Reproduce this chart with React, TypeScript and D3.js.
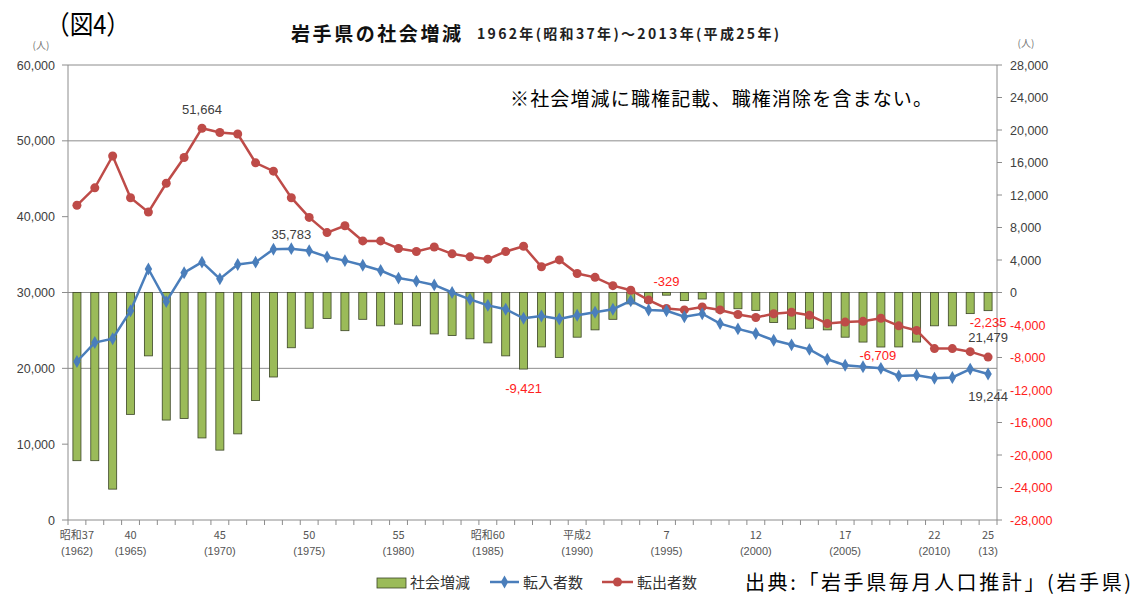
import React from "react";
import * as d3 from "d3";

const years: number[] = [
  1962, 1963, 1964, 1965, 1966, 1967, 1968, 1969, 1970, 1971, 1972, 1973, 1974,
  1975, 1976, 1977, 1978, 1979, 1980, 1981, 1982, 1983, 1984, 1985, 1986, 1987,
  1988, 1989, 1990, 1991, 1992, 1993, 1994, 1995, 1996, 1997, 1998, 1999, 2000,
  2001, 2002, 2003, 2004, 2005, 2006, 2007, 2008, 2009, 2010, 2011, 2012, 2013,
];

// 転入者数 (left axis)
const inflow: number[] = [
  20900, 23400, 23900, 27600, 33100, 28800, 32600, 34000, 31800, 33700, 34000,
  35700, 35783, 35500, 34700, 34200, 33600, 32900, 31900, 31500, 31000, 30000,
  29100, 28300, 27800, 26600, 26900, 26500, 27000, 27400, 27800, 28900, 27700,
  27600, 26800, 27200, 25900, 25200, 24600, 23700, 23100, 22500, 21200, 20400,
  20200, 20000, 19000, 19100, 18700, 18800, 19900, 19244,
];

// 転出者数 (left axis)
const outflow: number[] = [
  41500, 43800, 48000, 42500, 40600, 44400, 47800, 51664, 51100, 50900, 47100,
  46000, 42500, 39900, 37900, 38800, 36800, 36800, 35800, 35400, 36000, 35100,
  34700, 34400, 35400, 36100, 33400, 34300, 32500, 32000, 30900, 30300, 29000,
  27900, 27700, 28100, 27700, 27100, 26700, 27200, 27400, 27000, 25900, 26100,
  26200, 26600, 25600, 25000, 22600, 22600, 22200, 21479,
];

// 社会増減 (right axis)
const netChange: number[] = [
  -20700, -20700, -24200, -15000, -7800, -15700, -15500, -17900, -19400, -17400,
  -13300, -10400, -6800, -4400, -3200, -4700, -3300, -4100, -3900, -4100, -5100,
  -5300, -5700, -6200, -7800, -9421, -6700, -8000, -5500, -4600, -3300, -1400,
  -1200, -329, -1000, -800, -2400, -2000, -2200, -3700, -4500, -4400, -4600,
  -5500, -6100, -6709, -6700, -6100, -4100, -4100, -2600, -2235,
];

const leftTicks: number[] = [0, 10000, 20000, 30000, 40000, 50000, 60000];
const leftGrid: number[] = [20000, 30000, 50000, 60000];
const rightTicks: number[] = [
  -28000, -24000, -20000, -16000, -12000, -8000, -4000, 0, 4000, 8000, 12000,
  16000, 20000, 24000, 28000,
];

const xLabelIdx: number[] = [0, 3, 8, 13, 18, 23, 28, 33, 38, 43, 48, 51];
const xLabelTop: string[] = ["昭和37", "40", "45", "50", "55", "昭和60", "平成2", "7", "12", "17", "22", "25"];
const xLabelBottom: string[] = ["(1962)", "(1965)", "(1970)", "(1975)", "(1980)", "(1985)", "(1990)", "(1995)", "(2000)", "(2005)", "(2010)", "(13)"];

const NUM_FONT = "'Liberation Sans', Arial, sans-serif";
const JP_FONT = "'Noto Sans CJK JP', 'Noto Sans', sans-serif";

const BLUE = "#4A7EBB";
const RED = "#BE4B48";
const GREEN = "#9BBB59";
const AXIS = "#8c8c8c";

const fmtBase = d3.formatLocale({ decimal: ".", thousands: ",", grouping: [3], currency: ["", ""], minus: "-" }).format(",");
const fmt = (v: number) => fmtBase(v);

export default function App() {
  const L = 68, R = 997, T = 65, B = 520;
  const x = d3.scaleBand<number>().domain(d3.range(years.length)).range([L, R]).padding(0);
  const cx = (i: number) => (x(i) as number) + x.bandwidth() / 2;
  const yL = d3.scaleLinear().domain([0, 60000]).range([B, T]);
  const yR = d3.scaleLinear().domain([-28000, 28000]).range([B, T]);
  const barW = x.bandwidth() * 0.45;

  const lineL = d3.line<number>().x((_, i) => cx(i)).y((d) => yL(d));
  const diamond = d3.symbol().type(d3.symbolDiamond).size(48)();

  const ann = [
    { t: fmt(outflow[7]), x: cx(7), y: yL(outflow[7]) - 19, c: "#404040" },
    { t: fmt(inflow[12]), x: cx(12), y: yL(inflow[12]) - 14, c: "#404040" },
    { t: fmt(netChange[25]), x: cx(25), y: yR(netChange[25]) + 19, c: "#FF2020" },
    { t: fmt(netChange[33]), x: cx(33), y: yR(0) - 11, c: "#FF2020" },
    { t: fmt(netChange[45]), x: cx(45) - 3, y: yR(netChange[45]) + 8, c: "#FF2020" },
    { t: fmt(netChange[51]), x: cx(51), y: yR(netChange[51]) + 12, c: "#FF2020" },
    { t: fmt(outflow[51]), x: cx(51), y: yL(outflow[51]) - 20, c: "#404040" },
    { t: fmt(inflow[51]), x: cx(51), y: yL(inflow[51]) + 22, c: "#404040" },
  ];

  return (
    <svg width={1137} height={599} style={{ position: "absolute", left: 0, top: 0, background: "#fff" }}>
      {/* header */}
      <text x={46} y={34} fontFamily={JP_FONT} fontSize={26} fill="#000" textLength={84} lengthAdjust="spacingAndGlyphs">（図4）</text>
      <text x={291} y={41} fontFamily={JP_FONT} fontSize={19} fontWeight="bold" fill="#111" textLength={170}>岩手県の社会増減</text>
      <text x={477} y={39} fontFamily={JP_FONT} fontSize={14} fontWeight="bold" fill="#222" textLength={302}>1962年(昭和37年)～2013年(平成25年)</text>
      <text x={41} y={49} fontFamily={JP_FONT} fontSize={10} fill="#777" textAnchor="middle">(人)</text>
      <text x={1026} y={47} fontFamily={JP_FONT} fontSize={10} fill="#777" textAnchor="middle">(人)</text>

      {/* gridlines */}
      {leftGrid.map((v) => (
        <line key={"g" + v} x1={L} x2={R} y1={yL(v)} y2={yL(v)} stroke={AXIS} strokeWidth={1} />
      ))}

      {/* note */}
      <text x={510} y={106} fontFamily={JP_FONT} fontSize={19} fill="#000" textLength={422}>※社会増減に職権記載、職権消除を含まない。</text>

      {/* axes */}
      <line x1={L} x2={L} y1={T} y2={B} stroke={AXIS} />
      <line x1={R} x2={R} y1={T} y2={B} stroke={AXIS} />
      <line x1={L} x2={R} y1={B} y2={B} stroke={AXIS} />
      {leftTicks.map((v) => (
        <g key={"lt" + v}>
          <line x1={L - 6} x2={L} y1={yL(v)} y2={yL(v)} stroke={AXIS} />
          <text x={55} y={yL(v) + 4.5} textAnchor="end" fontFamily={NUM_FONT} fontSize={12.5} fill="#404040">{fmt(v)}</text>
        </g>
      ))}
      {rightTicks.map((v) => (
        <g key={"rt" + v}>
          <line x1={R} x2={R + 5} y1={yR(v)} y2={yR(v)} stroke={AXIS} />
          <text x={1010} y={yR(v) + 4.5} textAnchor="start" fontFamily={NUM_FONT} fontSize={12.5} fill={v < 0 ? "#FF2020" : "#404040"}>{fmt(v)}</text>
        </g>
      ))}
      {d3.range(years.length + 1).map((i) => {
        const xx = i < years.length ? (x(i) as number) : R;
        return <line key={"xt" + i} x1={xx} x2={xx} y1={B} y2={B + 5} stroke={AXIS} />;
      })}
      {xLabelIdx.map((i, k) => (
        <g key={"xl" + i}>
          <text x={cx(i)} y={539} textAnchor="middle" fontFamily={JP_FONT} fontSize={11} fill="#555">{xLabelTop[k]}</text>
          <text x={cx(i)} y={555} textAnchor="middle" fontFamily={NUM_FONT} fontSize={11} fill="#555">{xLabelBottom[k]}</text>
        </g>
      ))}

      {/* -6,709 label under bars */}
      {ann.slice(4, 5).map((a, k) => (
        <text key={"a0" + k} x={a.x} y={a.y + 4.5} textAnchor="middle" fontFamily={NUM_FONT} fontSize={13} fill={a.c}>{a.t}</text>
      ))}

      {/* bars */}
      {netChange.map((v, i) => (
        <rect key={"b" + i} x={cx(i) - barW / 2} y={yR(Math.max(0, v))} width={barW} height={Math.abs(yR(v) - yR(0))} fill={GREEN} stroke="#3b4526" strokeWidth={0.8} />
      ))}

      {/* lines */}
      <path d={lineL(outflow) as string} fill="none" stroke={RED} strokeWidth={2.5} />
      {outflow.map((v, i) => (
        <circle key={"o" + i} cx={cx(i)} cy={yL(v)} r={4.5} fill={RED} />
      ))}
      <path d={lineL(inflow) as string} fill="none" stroke={BLUE} strokeWidth={2.5} />
      {inflow.map((v, i) => (
        <path key={"n" + i} d={diamond as string} transform={`translate(${cx(i)},${yL(v)})`} fill={BLUE} />
      ))}

      {/* annotations */}
      {ann.filter((_, k) => k !== 4).map((a, k) => (
        <text key={"a" + k} x={a.x} y={a.y + 4.5} textAnchor="middle" fontFamily={NUM_FONT} fontSize={13} fill={a.c}>{a.t}</text>
      ))}

      {/* legend */}
      <rect x={377} y={578} width={29} height={10} fill={GREEN} stroke="#3b4526" strokeWidth={0.8} />
      <text x={410} y={588} fontFamily={JP_FONT} fontSize={15} fill="#333">社会増減</text>
      <line x1={490} x2={519} y1={582} y2={582} stroke={BLUE} strokeWidth={2.5} />
      <path d={diamond as string} transform="translate(504.5,582)" fill={BLUE} />
      <text x={523} y={588} fontFamily={JP_FONT} fontSize={15} fill="#333">転入者数</text>
      <line x1={602} x2={633} y1={582} y2={582} stroke={RED} strokeWidth={2.5} />
      <circle cx={617.5} cy={582} r={4.5} fill={RED} />
      <text x={637} y={588} fontFamily={JP_FONT} fontSize={15} fill="#333">転出者数</text>

      <text x={745} y={590} fontFamily={JP_FONT} fontSize={20} fill="#000" textLength={386}>出典:「岩手県毎月人口推計」(岩手県)</text>
    </svg>
  );
}
